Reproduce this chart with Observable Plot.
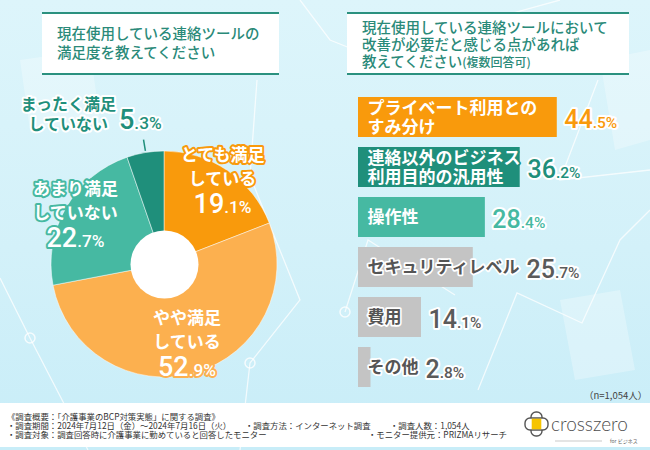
<!DOCTYPE html>
<html><head><meta charset="utf-8">
<script src="https://cdn.jsdelivr.net/npm/d3@7"></script>
<script src="https://cdn.jsdelivr.net/npm/@observablehq/plot@0.6"></script>
<style>
html,body{margin:0;padding:0;}
#root{position:relative;width:650px;height:450px;overflow:hidden;background:linear-gradient(180deg,#ddf5fb 0%,#d3f1f9 55%,#c8edf8 100%);font-family:"Noto Sans CJK JP","Noto Sans",sans-serif;}
#deco{position:absolute;left:0;top:0;}
.tbox{position:absolute;top:12px;height:63px;box-sizing:border-box;background:#fff;border-top:2px solid #2b917f;border-bottom:2px solid #2b917f;color:#2a8a79;font-size:14.5px;font-weight:500;white-space:nowrap;}
#t1{left:42px;width:237px;padding:9px 0 0 15px;line-height:19px;}
#t2{left:347px;width:282px;padding:4px 0 0 15px;line-height:17px;}
.small{font-size:12px;}
#pie{position:absolute;left:0;top:80px;}
#bars{position:absolute;left:358px;top:92px;}
svg text{paint-order:stroke;stroke-linejoin:round;}
#n{position:absolute;left:584px;top:388px;font-size:9.5px;color:#444;white-space:nowrap;}
#footer{position:absolute;left:0;top:403px;width:650px;height:44px;background:#fff;}
.ft{position:absolute;font-size:8.4px;color:#333;white-space:nowrap;line-height:9px;}
#logo{position:absolute;left:522px;top:7px;}
</style></head>
<body>
<div id="root">
  <svg id="deco" width="650" height="450">
    <g fill="none" stroke="#ffffff" stroke-width="1.3" opacity="0.75">
      <polyline points="0,278 30,338 88,450"/>
      <polyline points="257,80 250,176 300,300 250,363 240,450"/>
      <polyline points="300,0 330,40 405,70 470,25 560,0"/>
      <polyline points="345,312 368,240 455,295"/>
      <polyline points="478,390 517,293 582,323 620,240 650,210"/>
      <polyline points="598,80 560,180 650,170"/>
    </g>
    <g fill="none" stroke="#ffffff" stroke-width="1.5" opacity="0.8">
      <circle cx="30" cy="338" r="5"/><circle cx="250" cy="363" r="5"/><circle cx="345" cy="312" r="5"/>
    </g>
    <g fill="#ffffff" opacity="0.28">
      <polygon points="560,300 620,290 635,370 575,380"/>
      <polygon points="600,60 650,50 650,140 615,150"/>
      <polygon points="20,60 90,50 100,120 30,130"/>
    </g>
  </svg>
  <div class="tbox" id="t1">現在使用している連絡ツールの<br>満足度を教えてください</div>
  <div class="tbox" id="t2">現在使用している連絡ツールにおいて<br>改善が必要だと感じる点があれば<br>教えてください<span class="small">(複数回答可)</span></div>
  <div id="pie"></div>
  <div id="bars"></div>
  <div id="n">（n=1,054人）</div>
  <div id="footer">
    <div class="ft" style="left:7px;top:9px">《調査概要：「介護事業のBCP対策実態」に関する調査》</div>
    <div class="ft" style="left:7px;top:18px">・調査期間：2024年7月12日（金）～2024年7月16日（火）</div>
    <div class="ft" style="left:245px;top:18px">・調査方法：インターネット調査</div>
    <div class="ft" style="left:390px;top:18px">・調査人数：1,054人</div>
    <div class="ft" style="left:7px;top:27px">・調査対象：調査回答時に介護事業に勤めていると回答したモニター</div>
    <div class="ft" style="left:368px;top:27px">・モニター提供元：PRIZMAリサーチ</div>
    <svg id="logo" width="125" height="36">
      <g stroke="#555" stroke-width="1.4" fill="#fff">
        <rect x="9" y="2" width="11" height="24" rx="5"/>
        <rect x="3" y="8" width="23" height="12" rx="5"/>
      </g>
      <rect x="9.7" y="8.7" width="9.6" height="10.6" fill="#f6c400"/>
      <text x="29" y="21" font-family="Lato" font-weight="300" font-size="19" fill="#4d4d4d">crosszero</text>
      <line x1="33" y1="31" x2="80" y2="31" stroke="#bbb" stroke-width="0.8"/>
      <text x="88" y="33" font-family="Noto Sans CJK JP" font-size="5" fill="#666">for ビジネス</text>
    </svg>
  </div>
</div>
<script>
// ---------- data ----------
const pieLabels = ["とても満足している", "やや満足している", "あまり満足していない", "まったく満足していない"];
const pieTexts  = ["とても満足\nしている", "やや満足\nしている", "あまり満足\nしていない", "まったく満足\nしていない"];
const pieValues = [19.1, 52.9, 22.7, 5.3];

const barLabels = ["プライベート利用との\nすみ分け", "連絡以外のビジネス\n利用目的の汎用性", "操作性", "セキュリティレベル", "費用", "その他"];
const barValues = [44.5, 36.2, 28.4, 25.7, 14.1, 2.8];

// ---------- styles ----------
const pieColors   = ["#f99a0c", "#fcb04f", "#46b9a2", "#1f8f7b"];
const barFill     = ["#f99a0c", "#1f8f7b", "#46b9a2", "#c4c4c4", "#c4c4c4", "#c4c4c4"];
const barTextFill = ["#ffffff", "#ffffff", "#ffffff", "#555555", "#555555", "#555555"];
const barTextHalo = ["#f99a0c", "#1f8f7b", "#46b9a2", "#ffffff", "#ffffff", "#ffffff"];
const barPctFill  = ["#f99a0c", "#1f8f7b", "#46b9a2", "#5a5a5a", "#5a5a5a", "#5a5a5a"];

const JP = "Noto Sans CJK JP";
const NUM = "Roboto";

function splitPercents(svg, ratio) {
  const ns = "http://www.w3.org/2000/svg";
  d3.select(svg).selectAll("text").each(function () {
    if (this.querySelector("tspan")) return;
    const m = /^(\d+)(\.\d+%)$/.exec(this.textContent);
    if (!m) return;
    this.textContent = "";
    const a = document.createElementNS(ns, "tspan"); a.textContent = m[1];
    const b = document.createElementNS(ns, "tspan"); b.textContent = m[2]; b.style.fontSize = ratio + "em";
    this.append(a, b);
  });
}

// ---------- pie ----------
const pieData = pieLabels.map((label, i) => ({label, text: pieTexts[i], value: pieValues[i]}));
const arcs = d3.pie().sort(null).value(d => d.value)(pieData);
arcs.forEach(a => { a.data.mid = (a.startAngle + a.endAngle) / 2; });
const polar = (a, r) => ({x: r * Math.sin(a), y: r * Math.cos(a)});
const inside = pieData.filter(d => d.value >= 10).map(d => ({...d, ...polar(d.mid, d.value > 50 ? 0.72 : 0.91)}));
const outside = pieData.filter(d => d.value < 10).map(d => {
  const p1 = polar(d.mid, 1.02), p2 = polar(d.mid, 1.12), p = polar(d.mid, 1.29);
  return {...d, x1: p1.x, y1: p1.y, x2: p2.x, y2: p2.y, x: p.x, y: p.y};
});

const PW = 330, PH = 320, CX = 164, CY = 184, R = 113, HOLE = 34;
const pieColor = Plot.scale({color: {type: "ordinal", domain: pieLabels, range: pieColors}});

function pieSlices(index, scales) {
  const cx = scales.x(0), cy = scales.y(0), r = scales.x(1) - scales.x(0);
  const col = scales.color || (v => pieColor.apply(v));
  const arc = d3.arc().innerRadius(0).outerRadius(r);
  const g = d3.create("svg:g").attr("transform", `translate(${cx},${cy})`);
  g.selectAll("path").data(arcs).join("path")
    .attr("d", arc)
    .attr("fill", d => col(d.data.label))
    .attr("stroke", "#ffffff").attr("stroke-opacity", 0.6).attr("stroke-width", 0.8);
  return g.node();
}

const pie = Plot.plot({
  width: PW, height: PH,
  marginTop: 0, marginRight: 0, marginBottom: 0, marginLeft: 0,
  x: {domain: [-CX / R, (PW - CX) / R], axis: null},
  y: {domain: [-(PH - CY) / R, CY / R], axis: null},
  color: {type: "ordinal", domain: pieLabels, range: pieColors},
  style: {fontFamily: JP, background: "transparent", overflow: "visible"},
  marks: [
    pieSlices,
    Plot.dot([0], {x: 0, y: 0, r: HOLE, fill: "#ffffff"}),
    Plot.text(inside, {x: "x", y: "y", text: "text", dy: -14, lineHeight: 1.4, fontSize: 17, fontWeight: 700,
      fill: "#ffffff", stroke: "label", strokeWidth: 4}),
    Plot.text(inside, {x: "x", y: "y", text: d => d.value.toFixed(1) + "%", dy: 25, fontSize: 27, fontFamily: NUM, fontWeight: 500,
      fill: "#ffffff", stroke: "label", strokeWidth: 4}),
    Plot.link(outside, {x1: "x1", y1: "y1", x2: "x2", y2: "y2", stroke: "label", strokeWidth: 1.5}),
    Plot.text(outside, {x: "x", y: "y", text: "text", textAnchor: "middle", dx: -72, dy: -7, lineHeight: 1.25, fontSize: 16, fontWeight: 700,
      fill: "label", stroke: "#ffffff", strokeWidth: 4}),
    Plot.text(outside, {x: "x", y: "y", text: d => d.value.toFixed(1) + "%", fontSize: 27, fontFamily: NUM, fontWeight: 500,
      fill: "label", stroke: "#ffffff", strokeWidth: 4})
  ]
});
splitPercents(pie, 0.64);
document.getElementById("pie").append(pie);

// ---------- bars ----------
function measure(texts, font) {
  const s = d3.select("body").append("svg").attr("width", 0).attr("height", 0).style("position", "absolute");
  const t = s.append("text").style("font", font);
  const w = texts.map(str => d3.max(str.split("\n"), line => { t.text(line); return t.node().getComputedTextLength(); }));
  s.remove();
  return w;
}
const BW = 285, BH = 300, XMAX = 63.8, K = BW / XMAX, TEXT_DX = 9;
const labelW = measure(barLabels, `700 17px "${JP}"`);
const barData = barLabels.map((label, i) => ({
  label, value: barValues[i],
  fill: barFill[i], tfill: barTextFill[i], thalo: barTextHalo[i], pfill: barPctFill[i],
  px: Math.max(barValues[i], (TEXT_DX + labelW[i]) / K)
}));

const bars = Plot.plot({
  width: BW, height: BH,
  marginTop: 0, marginRight: 0, marginBottom: 0, marginLeft: 0,
  x: {domain: [0, XMAX], axis: null},
  y: {domain: barLabels, paddingInner: 0.2, paddingOuter: 0.1, axis: null},
  style: {fontFamily: JP, background: "transparent", overflow: "visible"},
  marks: [
    Plot.barX(barData, {x: "value", y: "label", fill: "fill"}),
    Plot.text(barData, {x: 0, y: "label", text: "label", dx: TEXT_DX, textAnchor: "start", lineHeight: 1.08,
      fontSize: 17, fontWeight: 700, fill: "tfill", stroke: "thalo", strokeWidth: 3.5}),
    Plot.text(barData, {x: "px", y: "label", text: d => d.value.toFixed(1) + "%", dx: 7, dy: 2, textAnchor: "start",
      fontSize: 25, fontFamily: NUM, fontWeight: 500, fill: "pfill", stroke: "#ffffff", strokeWidth: 4})
  ]
});
splitPercents(bars, 0.62);
document.getElementById("bars").append(bars);
</script>
</body></html>
